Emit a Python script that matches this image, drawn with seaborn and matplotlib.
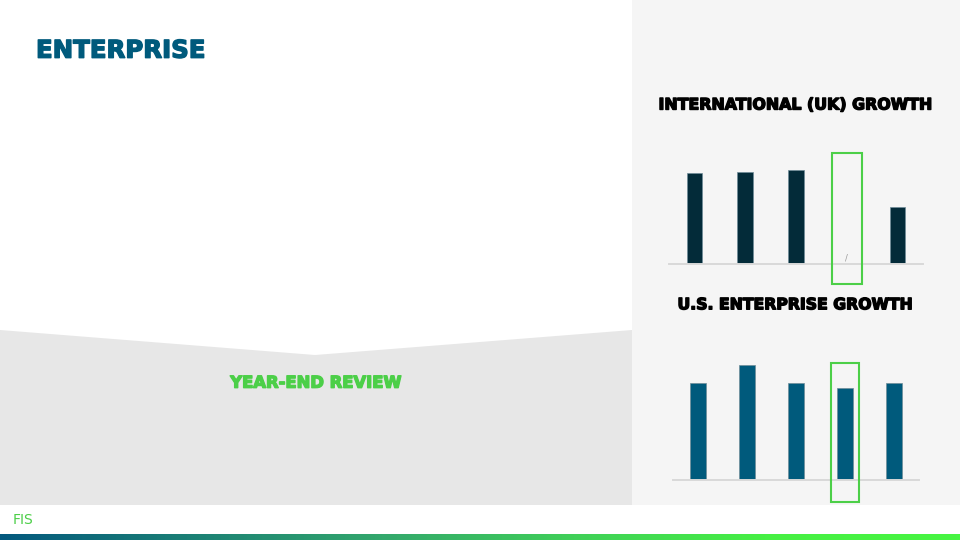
import numpy as np
import pandas as pd
import seaborn as sns
import matplotlib.pyplot as plt
import matplotlib.patheffects as pe
from matplotlib.patches import Rectangle, Polygon
from matplotlib.colors import LinearSegmentedColormap
import matplotlib.transforms as mtransforms

# chart data (growth)
periods = ['FY15', 'FY16', 'FY17', 'FY18', 'FY19']
uk_growth = [9.1, 9.2, 9.4, 0.0, 5.7]
us_growth = [5.3, 6.3, 5.3, 5.0, 5.3]
highlight = 'FY18'

title = 'ENTERPRISE'
subtitle = 'YEAR-END REVIEW'
uk_title = 'INTERNATIONAL (UK) GROWTH'
us_title = 'U.S. ENTERPRISE GROWTH'

NAVY = '#032b39'
TEAL = '#005a7c'
GREEN = '#4ccf48'

sns.set_theme(style='white')
plt.rcParams['font.family'] = ['DejaVu Sans']

W, H = 960, 540
fig = plt.figure(figsize=(9.6, 5.4), dpi=100)
fig.patch.set_facecolor('white')

# background canvas in pixel units
bg = fig.add_axes([0, 0, 1, 1])
bg.set_xlim(0, W)
bg.set_ylim(H, 0)
bg.axis('off')
bg.add_patch(Rectangle((632, 0), 328, 505, facecolor='#f5f5f5', edgecolor='none'))
bg.add_patch(Polygon([(0, 330), (315, 355), (632, 330), (632, 505), (0, 505)],
                     closed=True, facecolor='#e7e7e7', edgecolor='none'))

grad = LinearSegmentedColormap.from_list(
    'fis', [(0, '#04597e'), (0.4, '#33a86c'), (0.6, '#40d058'), (0.8, '#46f044'), (1, '#46f542')])
bg.imshow(np.linspace(0, 1, 256).reshape(1, -1), cmap=grad, aspect='auto',
          extent=[0, W, H, 534], zorder=1)
bg.set_xlim(0, W)
bg.set_ylim(H, 0)


def heavy_fx(color):
    # thicken the bold face a bit, closer to the black-weight headings
    return [pe.withStroke(linewidth=1.0, foreground=color)]


bg.text(36, 57.7, title, fontsize=17.6, fontweight='bold', color=TEAL,
        ha='left', va='baseline', path_effects=heavy_fx(TEAL))
bg.text(316, 387.7, subtitle, fontsize=11.8, fontweight='bold', color=GREEN,
        ha='center', va='baseline', path_effects=heavy_fx(GREEN))
bg.text(796, 109.5, uk_title, fontsize=11.4, fontweight='bold', color='black',
        ha='center', va='baseline', path_effects=heavy_fx('black'))
bg.text(796, 309.3, us_title, fontsize=11.3, fontweight='bold', color='black',
        ha='center', va='baseline', path_effects=heavy_fx('black'))
bg.text(13, 524, 'FIS', fontsize=10, color=GREEN, ha='left', va='baseline')


def px_axes(x0, x1, y0, y1):
    return fig.add_axes([x0 / W, 1 - y1 / H, (x1 - x0) / W, (y1 - y0) / H])


def growth_chart(ax, values, color, ymax, width, box_y):
    df = pd.DataFrame({'period': periods, 'growth': values})
    sns.barplot(data=df, x='period', y='growth', ax=ax, color=color, width=width,
                saturation=1, edgecolor='#6f8c98', linewidth=0.5)
    ax.set_xlim(-0.5, len(periods) - 0.5)
    ax.set_ylim(0, ymax)
    ax.set_facecolor('none')
    for s in ['top', 'right', 'left']:
        ax.spines[s].set_visible(False)
    ax.spines['bottom'].set_color('#d9d9d9')
    ax.spines['bottom'].set_linewidth(1.4)
    ax.set_xticks([])
    ax.set_yticks([])
    ax.set_xlabel('')
    ax.set_ylabel('')
    # highlight box around the selected period
    i = periods.index(highlight)
    tr = mtransforms.blended_transform_factory(ax.transData, ax.transAxes)
    ax.add_patch(Rectangle((i - 0.29, box_y[0]), 0.58, box_y[1] - box_y[0],
                           transform=tr, fill=False, edgecolor=GREEN, linewidth=1.5,
                           clip_on=False, zorder=5))
    return i


ax1 = px_axes(669, 923, 144, 264)
i = growth_chart(ax1, uk_growth, NAVY, 12, 0.31, (-0.167, 0.925))
ax1.text(i, 0.15, '/', fontsize=6, color='#9a9a9a', ha='center', va='bottom')

ax2 = px_axes(673.3, 918.8, 360, 479.7)
growth_chart(ax2, us_growth, TEAL, 6.55, 0.32, (-0.186, 0.972))

fig.savefig('out.png', dpi=100, facecolor=fig.get_facecolor())
